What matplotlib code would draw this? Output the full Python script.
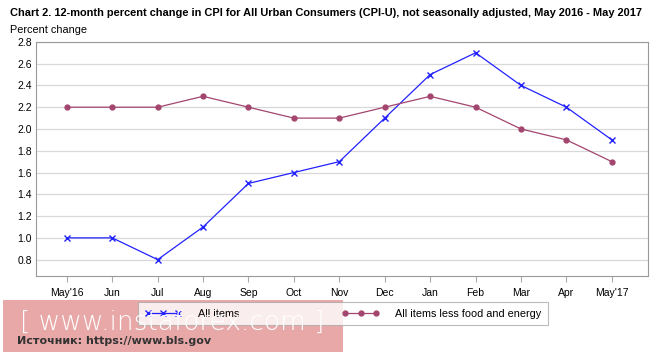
import numpy as np
import matplotlib
matplotlib.use('Agg')
import matplotlib.pyplot as plt
from matplotlib.patches import Rectangle

months = ["May'16", "Jun", "Jul", "Aug", "Sep", "Oct", "Nov", "Dec",
          "Jan", "Feb", "Mar", "Apr", "May'17"]
all_items = [1.0, 1.0, 0.8, 1.1, 1.5, 1.6, 1.7, 2.1, 2.5, 2.7, 2.4, 2.2, 1.9]
core_items = [2.2, 2.2, 2.2, 2.3, 2.2, 2.1, 2.1, 2.2, 2.3, 2.2, 2.0, 1.9, 1.7]
yticks = [0.8, 1.0, 1.2, 1.4, 1.6, 1.8, 2.0, 2.2, 2.4, 2.6, 2.8]

plt.rcParams['font.family'] = ['Liberation Sans', 'DejaVu Sans']

fig = plt.figure(figsize=(6.65, 3.52), dpi=100)
ax = fig.add_axes([0.054, 0.216, 0.920, 0.665])

x = np.arange(len(months))
ax.plot(x, all_items, color='#2222ff', lw=0.9, marker='x', ms=4, mew=1.0,
        label='All items')
ax.plot(x, core_items, color='#a3456e', lw=0.9, marker='o', ms=3.5,
        label='All items less food and energy')

ax.set_xlim(-0.68, 12.79)
ax.set_ylim(0.65, 2.8)
ax.set_yticks(yticks)
ax.set_yticklabels([f'{v:.1f}' for v in yticks], fontsize=7.5)
ax.set_xticks(x)
ax.set_xticklabels(months, fontsize=7.5)
ax.tick_params(axis='y', length=0, pad=3)
ax.tick_params(axis='x', length=4, color='#aaaaaa', pad=5)
ax.grid(axis='y', color='#d8d8d8', lw=0.9)
ax.set_axisbelow(True)
for s in ax.spines.values():
    s.set_color('#999999')
    s.set_linewidth(0.8)

fig.text(0.015, 0.963, 'Chart 2. 12-month percent change in CPI for All Urban Consumers (CPI-U), '
         'not seasonally adjusted, May 2016 - May 2017', fontsize=7.9, fontweight='bold',
         va='center')
fig.text(0.015, 0.914, 'Percent change', fontsize=7.8, va='center')

leg = fig.legend(loc='center', bbox_to_anchor=(0.516, 0.108), ncol=2, fontsize=7.8,
                 numpoints=3, frameon=True, fancybox=False, edgecolor='#aaaaaa',
                 columnspacing=9.5, handlelength=3.4, handletextpad=1.5,
                 borderpad=0.6, borderaxespad=0)
leg.get_frame().set_linewidth(0.8)

# watermark overlay
fig.patches.append(Rectangle((0.005, 0.0), 0.511, 0.148, transform=fig.transFigure,
                             facecolor='#e08484', alpha=0.7, edgecolor='none', zorder=5))
fig.text(0.03, 0.085, '[ www.instaforex.com ]', fontsize=19, color='white',
         va='center', zorder=6, family='DejaVu Sans', fontweight='light')
fig.text(0.025, 0.03, 'Источник: https://www.bls.gov', fontsize=8, color='#333333',
         fontweight='bold', va='center', zorder=6, family='DejaVu Sans')

fig.savefig('out.png', dpi=100)
